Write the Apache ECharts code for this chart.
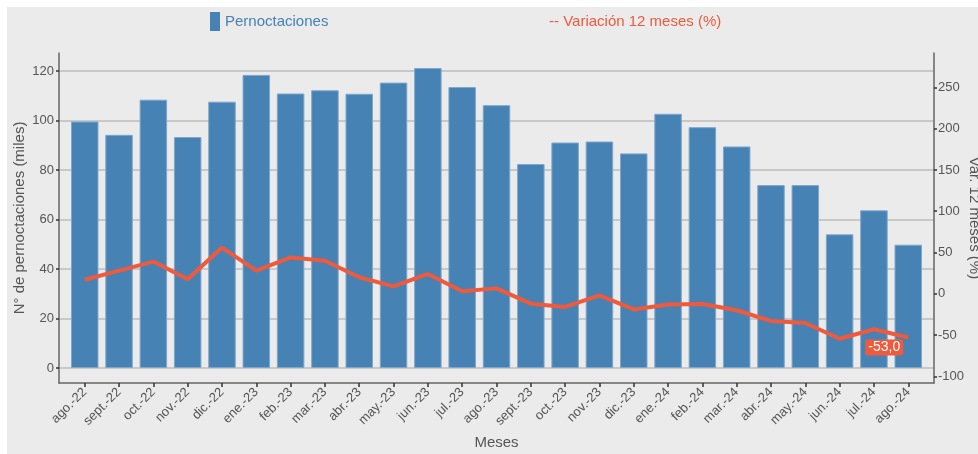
<!DOCTYPE html>
<html>
<head>
<meta charset="utf-8">
<script src="https://cdn.jsdelivr.net/npm/echarts@6/dist/echarts.min.js"></script>
<style>
html,body{margin:0;padding:0;background:#ffffff;overflow:hidden;}
#chart{position:absolute;left:7px;top:7px;width:971px;height:447px;}
</style>
</head>
<body>
<div id="chart"></div>
<script>
const categories = ['ago.-22','sept.-22','oct.-22','nov.-22','dic.-22','ene.-23','feb.-23','mar.-23','abr.-23','may.-23','jun.-23','jul.-23','ago.-23','sept.-23','oct.-23','nov.-23','dic.-23','ene.-24','feb.-24','mar.-24','abr.-24','may.-24','jun.-24','jul.-24','ago.-24'];
const pernoctaciones = [99.6, 94.2, 108.4, 93.3, 107.6, 118.4, 110.9, 112.2, 110.8, 115.3, 121.2, 113.5, 106.2, 82.4, 91.1, 91.5, 86.7, 102.7, 97.3, 89.5, 73.9, 73.9, 54.0, 63.7, 49.8];
const variacion = [17, 28, 39, 17.5, 56, 28, 44, 40, 20, 9, 24, 3, 6.5, -12, -16, -2, -19, -13, -12.5, -20, -33, -35.5, -54.5, -43, -53.0];
const leftTicks = [0, 20, 40, 60, 80, 100, 120];
const rightTicks = [-100, -50, 0, 50, 100, 150, 200, 250];

const maxBar = Math.max(...pernoctaciones);
const leftMin = -0.05 * maxBar, leftMax = 1.05 * maxBar;
// secondary axis: var = 3 * left - 90
const rightMin = 3 * leftMin - 90, rightMax = 3 * leftMax - 90;
const idx = categories.map((c, i) => i);

const RED = '#ef5a3d';
const BLUE = '#4682b4';
const TXT = '#555555';
const FONT = '"Liberation Sans", Arial, sans-serif';

const chart = echarts.init(document.getElementById('chart'));
chart.setOption({
  backgroundColor: '#ebebeb',
  animation: false,
  textStyle: { fontFamily: FONT },
  legend: [
    { left: 203, top: 5, padding: 0, icon: 'rect', itemWidth: 10, itemHeight: 19, itemGap: 5,
      itemStyle: { borderWidth: 0 },
      data: ['Pernoctaciones'], textStyle: { color: BLUE, fontSize: 15, fontFamily: FONT } },
    { left: 537, top: 5, padding: 0, icon: 'none', itemWidth: 0, itemHeight: 19,
      data: ['Variación 12 meses (%)'], formatter: n => '-- ' + n,
      textStyle: { color: RED, fontSize: 15, fontFamily: FONT } }
  ],
  grid: { left: 52, right: 44, top: 46, bottom: 71, containLabel: false, outerBoundsMode: 'none' },
  xAxis: {
    type: 'value', min: -0.75, max: categories.length - 0.25,
    name: 'Meses', nameLocation: 'middle', nameGap: 52, nameMoveOverlap: false,
    nameTextStyle: { color: TXT, fontSize: 15, fontFamily: FONT },
    axisLine: { show: true, onZero: false, lineStyle: { color: '#666', width: 1.5 } },
    axisTick: { show: true, length: 4, lineStyle: { color: '#333', width: 1.5 }, customValues: idx },
    axisLabel: { customValues: idx, rotate: 45, color: TXT, fontSize: 13, margin: 7, fontFamily: FONT,
      formatter: v => categories[Math.round(v)] },
    splitLine: { show: false }
  },
  yAxis: [
    { type: 'value', min: leftMin, max: leftMax, position: 'left',
      name: 'N° de pernoctaciones (miles)', nameLocation: 'middle', nameGap: 32, nameRotate: 90,
      nameMoveOverlap: false,
      nameTextStyle: { color: TXT, fontSize: 15, fontFamily: FONT },
      axisLine: { show: true, onZero: false, lineStyle: { color: '#666', width: 1.5 } },
      axisTick: { show: true, length: 3, lineStyle: { color: '#333', width: 1.5 }, customValues: leftTicks },
      axisLabel: { customValues: leftTicks, color: TXT, fontSize: 13, margin: 5, fontFamily: FONT },
      splitLine: { show: true, lineStyle: { color: '#bdbdbd', width: 1.5 } }
    },
    { type: 'value', min: rightMin, max: rightMax, position: 'right',
      name: 'Var. 12 meses (%)', nameLocation: 'middle', nameGap: 33, nameRotate: -90,
      nameMoveOverlap: false,
      nameTextStyle: { color: TXT, fontSize: 15, fontFamily: FONT },
      axisLine: { show: true, onZero: false, lineStyle: { color: '#666', width: 1.5 } },
      axisTick: { show: true, length: 3, lineStyle: { color: '#333', width: 1.5 }, customValues: rightTicks },
      axisLabel: { customValues: rightTicks, color: TXT, fontSize: 13, margin: 4, fontFamily: FONT },
      splitLine: { show: false }
    }
  ],
  series: [
    { name: 'Pernoctaciones', type: 'bar', xAxisIndex: 0, yAxisIndex: 0, barWidth: 27.5,
      itemStyle: { color: BLUE, borderColor: '#7fa7cc', borderWidth: 1 },
      data: idx.map(i => [i, pernoctaciones[i]]) },
    { name: 'Variación 12 meses (%)', type: 'line', xAxisIndex: 0, yAxisIndex: 1,
      symbol: 'circle', symbolSize: 0, showSymbol: true,
      lineStyle: { color: RED, width: 4 }, itemStyle: { color: RED },
      data: idx.map(i => {
        const d = { value: [i, variacion[i]] };
        if (i === idx.length - 1) {
          d.label = { show: true, position: 'bottom', distance: 2, offset: [-24, 0],
            formatter: p => p.value[1].toFixed(1).replace('.', ','),
            color: '#fff', backgroundColor: RED, fontSize: 14, fontFamily: FONT,
            padding: [1, 3, 1, 3], borderRadius: 2 };
        }
        return d;
      }) }
  ]
});
</script>
</body>
</html>
